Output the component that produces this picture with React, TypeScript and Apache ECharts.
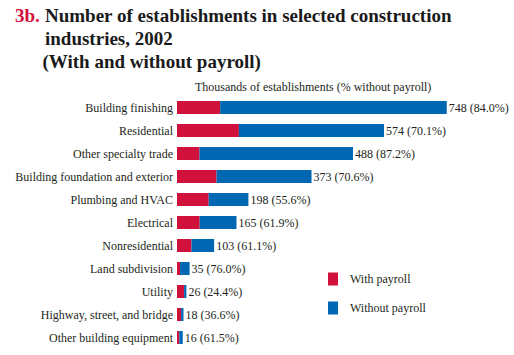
import React, { useEffect, useRef } from "react";
import * as echarts from "echarts";

const categories = [
  "Building finishing",
  "Residential",
  "Other specialty trade",
  "Building foundation and exterior",
  "Plumbing and HVAC",
  "Electrical",
  "Nonresidential",
  "Land subdivision",
  "Utility",
  "Highway, street, and bridge",
  "Other building equipment",
];
const totals = [748, 574, 488, 373, 198, 165, 103, 35, 26, 18, 16];
const pctWithout = ["84.0", "70.1", "87.2", "70.6", "55.6", "61.9", "61.1", "76.0", "24.4", "36.6", "61.5"];
const withPayroll = [119.7, 171.6, 62.5, 109.7, 87.9, 62.9, 40.1, 8.4, 19.7, 11.4, 6.2];
const withoutPayroll = [628.3, 402.4, 425.5, 263.3, 110.1, 102.1, 62.9, 26.6, 6.3, 6.6, 9.8];

const RED = "#d0113b";
const BLUE = "#0068b3";
const FONT = "'Liberation Serif', 'Times New Roman', serif";
const TXT = "#231f20";

export default function App() {
  const ref = useRef<HTMLDivElement>(null);
  useEffect(() => {
    if (!ref.current) return;
    const chart = echarts.init(ref.current, null, { renderer: "svg" });
    chart.setOption({
      animation: false,
      backgroundColor: "#ffffff",
      grid: { left: 177, top: 96, height: 253, width: 288.5 },
      xAxis: {
        type: "value",
        min: 0,
        max: 800,
        show: false,
      },
      yAxis: {
        type: "category",
        data: categories,
        inverse: true,
        axisLine: { show: false },
        axisTick: { show: false },
        axisLabel: {
          margin: 4,
          fontFamily: FONT,
          fontSize: 12,
          color: TXT,
        },
      },
      legend: {
        orient: "vertical",
        left: 328,
        top: 272.5,
        itemWidth: 10,
        itemHeight: 13,
        itemGap: 16,
        icon: "rect",
        padding: 0,
        textStyle: {
          fontFamily: FONT,
          fontSize: 12,
          color: TXT,
          padding: [0, 0, 0, 7],
        },
        data: ["With payroll", "Without payroll"],
      },
      series: [
        {
          name: "With payroll",
          type: "bar",
          stack: "t",
          data: withPayroll,
          barWidth: 13,
          itemStyle: { color: RED },
        },
        {
          name: "Without payroll",
          type: "bar",
          stack: "t",
          data: withoutPayroll,
          barWidth: 13,
          itemStyle: { color: BLUE },
          label: {
            show: true,
            position: "right",
            distance: 2,
            fontFamily: FONT,
            fontSize: 12,
            color: TXT,
            formatter: (p: any) => `${totals[p.dataIndex]} (${pctWithout[p.dataIndex]}%)`,
          },
        },
      ],
      graphic: [
        {
          type: "text",
          left: 15,
          top: 6,
          style: { text: "3b.", fill: RED, font: `bold 19px ${FONT}` },
        },
        {
          type: "text",
          left: 45,
          top: 6,
          style: { text: "Number of establishments in selected construction", fill: "#1a1a1a", font: `bold 19px ${FONT}` },
        },
        {
          type: "text",
          left: 45,
          top: 29,
          style: { text: "industries, 2002", fill: "#1a1a1a", font: `bold 19px ${FONT}` },
        },
        {
          type: "text",
          left: 42.5,
          top: 51.5,
          style: { text: "(With and without payroll)", fill: "#1a1a1a", font: `bold 19px ${FONT}` },
        },
        {
          type: "text",
          left: 195,
          top: 81,
          style: { text: "Thousands of establishments (% without payroll)", fill: TXT, font: `12px ${FONT}` },
        },
      ],
    });
    return () => chart.dispose();
  }, []);
  return (
    <div
      ref={ref}
      style={{ position: "absolute", left: 0, top: 0, width: 514, height: 355 }}
    />
  );
}
